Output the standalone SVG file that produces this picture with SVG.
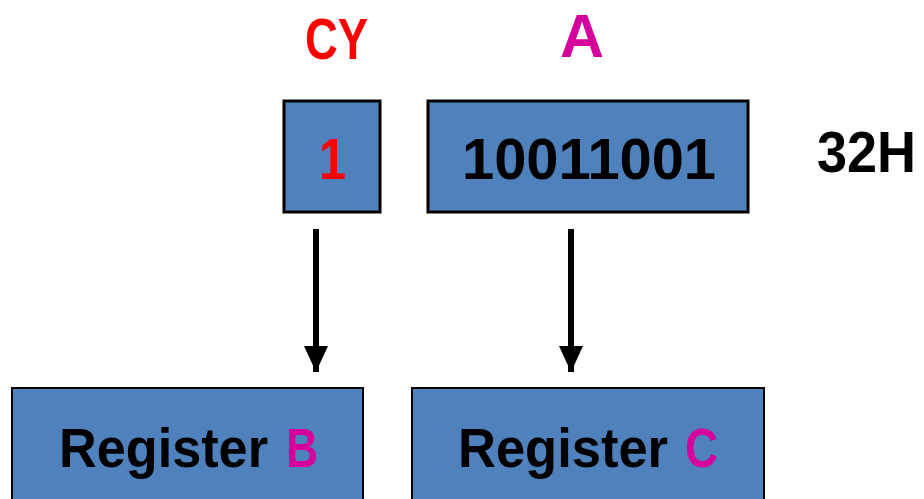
<svg xmlns="http://www.w3.org/2000/svg" width="924" height="499" viewBox="0 0 924 499">
<defs>
<style>
.box{fill:#4F81BD;stroke:#000;stroke-width:3}
.bbox{fill:#4F81BD;stroke:#000;stroke-width:2}
text{font-family:"Liberation Sans",Arial,sans-serif;font-weight:bold;text-anchor:middle}
.st{text-anchor:start}
.red{fill:#FF0000}
.mag{fill:#D5009B}
.blk{fill:#000}
.conn{stroke:#000;stroke-width:6;fill:none}
</style>
<marker id="ah" markerUnits="userSpaceOnUse" markerWidth="24" markerHeight="26" refX="26" refY="12" orient="auto">
<path d="M0,0 L26,12 L0,24 Z" fill="#000"/>
</marker>
</defs>
<rect width="924" height="499" fill="#fff"/>
<g id="label-cy"><text class="red" x="336.5" y="59" font-size="58" textLength="63" lengthAdjust="spacingAndGlyphs">CY</text></g>
<g id="label-a"><text class="mag" x="582" y="57" font-size="62" textLength="44" lengthAdjust="spacingAndGlyphs">A</text></g>
<g id="node-cy"><rect class="box" x="284" y="101" width="96" height="111"/><text class="red" x="332.5" y="179" font-size="58" textLength="27" lengthAdjust="spacingAndGlyphs">1</text></g>
<g id="node-a"><rect class="box" x="428" y="101" width="320" height="111"/><text class="blk" x="589" y="179" font-size="58" textLength="254" lengthAdjust="spacingAndGlyphs">10011001</text></g>
<g id="label-32h"><text class="blk" x="866.5" y="172" font-size="58" textLength="99" lengthAdjust="spacingAndGlyphs">32H</text></g>
<g id="node-b"><rect class="bbox" x="12" y="388" width="351" height="120"/>
<text class="blk st" x="59" y="467" font-size="56" textLength="209" lengthAdjust="spacingAndGlyphs">Register</text>
<text class="mag st" x="286" y="467" font-size="56" textLength="32" lengthAdjust="spacingAndGlyphs">B</text></g>
<g id="node-c"><rect class="bbox" x="412" y="388" width="352" height="120"/>
<text class="blk st" x="458" y="467" font-size="56" textLength="210" lengthAdjust="spacingAndGlyphs">Register</text>
<text class="mag st" x="685" y="467" font-size="56" textLength="33" lengthAdjust="spacingAndGlyphs">C</text></g>
<g id="connectors">
<line class="conn" x1="316" y1="229" x2="316" y2="372" marker-end="url(#ah)"/>
<line class="conn" x1="571" y1="229" x2="571" y2="372" marker-end="url(#ah)"/>
</g>
</svg>
